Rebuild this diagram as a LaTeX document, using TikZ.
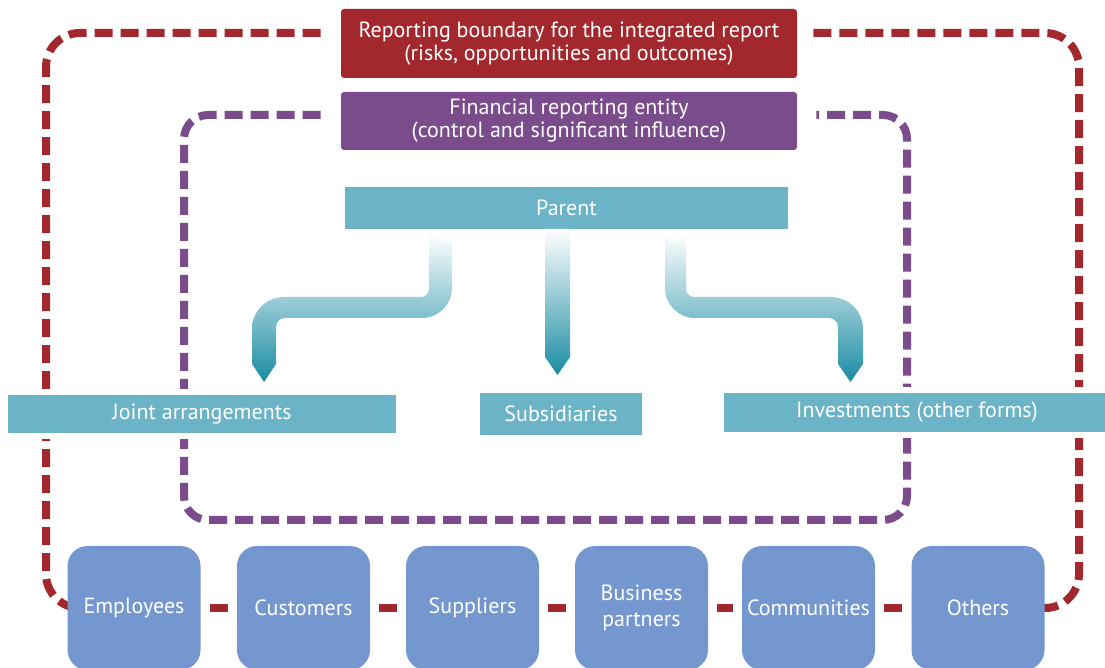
\documentclass[tikz,border=0pt]{standalone}
\usepackage{fontspec}
\setmainfont{PT Sans}
\usetikzlibrary{calc}
\definecolor{bred}{HTML}{A3282D}
\definecolor{bpurple}{HTML}{7A4C8B}
\definecolor{bteal}{HTML}{6BB3C6}
\definecolor{ateal}{HTML}{1A8CA3}
\definecolor{bblue}{HTML}{7497CF}
\pgfdeclarelayer{bg}
\pgfsetlayers{bg,main}
\begin{document}
\begin{tikzpicture}[x=0.5pt,y=-0.5pt,
 hdr/.style={rounded corners=1.5pt, text=white, align=center, inner sep=0pt, font=\fontsize{11}{11.5}\selectfont, minimum width=228pt},
 bar/.style={fill=bteal, text=white, inner sep=0pt, font=\fontsize{11}{12}\selectfont, preaction={draw=white,line width=6pt}},
 party/.style={fill=bblue, rounded corners=10pt, text=white, align=center, minimum width=66.5pt, minimum height=62pt, inner sep=0pt, font=\fontsize{11}{13}\selectfont},
 bnd/.style={line width=4pt, dash pattern=on 9pt off 4pt, rounded corners=17pt},
 link/.style={draw=bred, line width=4pt, shorten <=4.5pt, shorten >=4.5pt},
 pipe/.style={top color=white, bottom color=ateal}]
\useasboundingbox (0,0) rectangle (1105,668);

\node[hdr, fill=bred, minimum height=34.5pt] (rb) at (569,43.5) {Reporting boundary for the integrated report\\(risks, opportunities and outcomes)};
\node[hdr, fill=bpurple, minimum height=29pt] (fe) at (569,121) {Financial reporting entity\\(control and significant influence)};
\node[bar, minimum width=221.5pt, minimum height=21pt] (parent) at (566.5,208) {Parent};
\node[bar, minimum width=194pt, minimum height=19pt] (ja) at (202,414) {Joint arrangements};
\node[bar, minimum width=81pt, minimum height=21pt] (sub) at (561,414) {Subsidiaries};
\node[bar, minimum width=193pt, minimum height=19.5pt] (inv) at (917,412.5) {Investments (other forms)};

\node[party] (emp) at (134,608) {Employees};
\node[party] (cust) at (303.5,608) {Customers};
\node[party] (supp) at (472.5,608) {Suppliers};
\node[party] (bus) at (641.5,608) {Business\\partners};
\node[party] (comm) at (808.5,608) {Communities};
\node[party] (oth) at (978,608) {Others};

\draw[link] (emp) -- (cust);
\draw[link] (cust) -- (supp);
\draw[link] (supp) -- (bus);
\draw[link] (bus) -- (comm);
\draw[link] (comm) -- (oth);

% pipes
\shade[pipe] (429,233) -- (429,289) .. controls (429,293.4) and (425.4,297) .. (421,297) -- (284,297) .. controls (266.3,297) and (252,311.3) .. (252,329) -- (252,364) -- (264,382) -- (276,364) -- (276,327) .. controls (276,322) and (280,318) .. (285,318) -- (422,318) .. controls (438.6,318) and (452,304.4) .. (452,288) -- (452,233) -- (440.5,242) -- cycle;
\shade[pipe] (545,229) -- (545,357) -- (557.5,375) -- (570,357) -- (570,229) -- cycle;
\shade[pipe] (665,233) -- (665,288) .. controls (665,304.6) and (678.4,318) .. (695,318) -- (829,318) .. controls (834,318) and (838,322) .. (838,327) -- (838,364) -- (850.5,382) -- (863,364) -- (863,329) .. controls (863,311.3) and (848.7,297) .. (831,297) -- (694,297) .. controls (689.6,297) and (686,293.4) .. (686,289) -- (686,233) -- (675.5,242) -- cycle;

\begin{pgfonlayer}{bg}
\draw[bnd, draw=bred] ($(rb.west)+(-20,-10.5)$) -- (46,33) -- (46,608) -- (emp.center);
\draw[bnd, draw=bred] ($(rb.east)+(16,-10.5)$) -- (1079,33) -- (1079,608) -- (oth.center);
\draw[bnd, draw=bpurple, rounded corners=12pt] ($(fe.west)+(-20,-6)$) -- (184,115) -- (184,520) -- (907,520) -- (907,115) -- ($(fe.east)+(19,-6)$);
\end{pgfonlayer}
\end{tikzpicture}
\end{document}
